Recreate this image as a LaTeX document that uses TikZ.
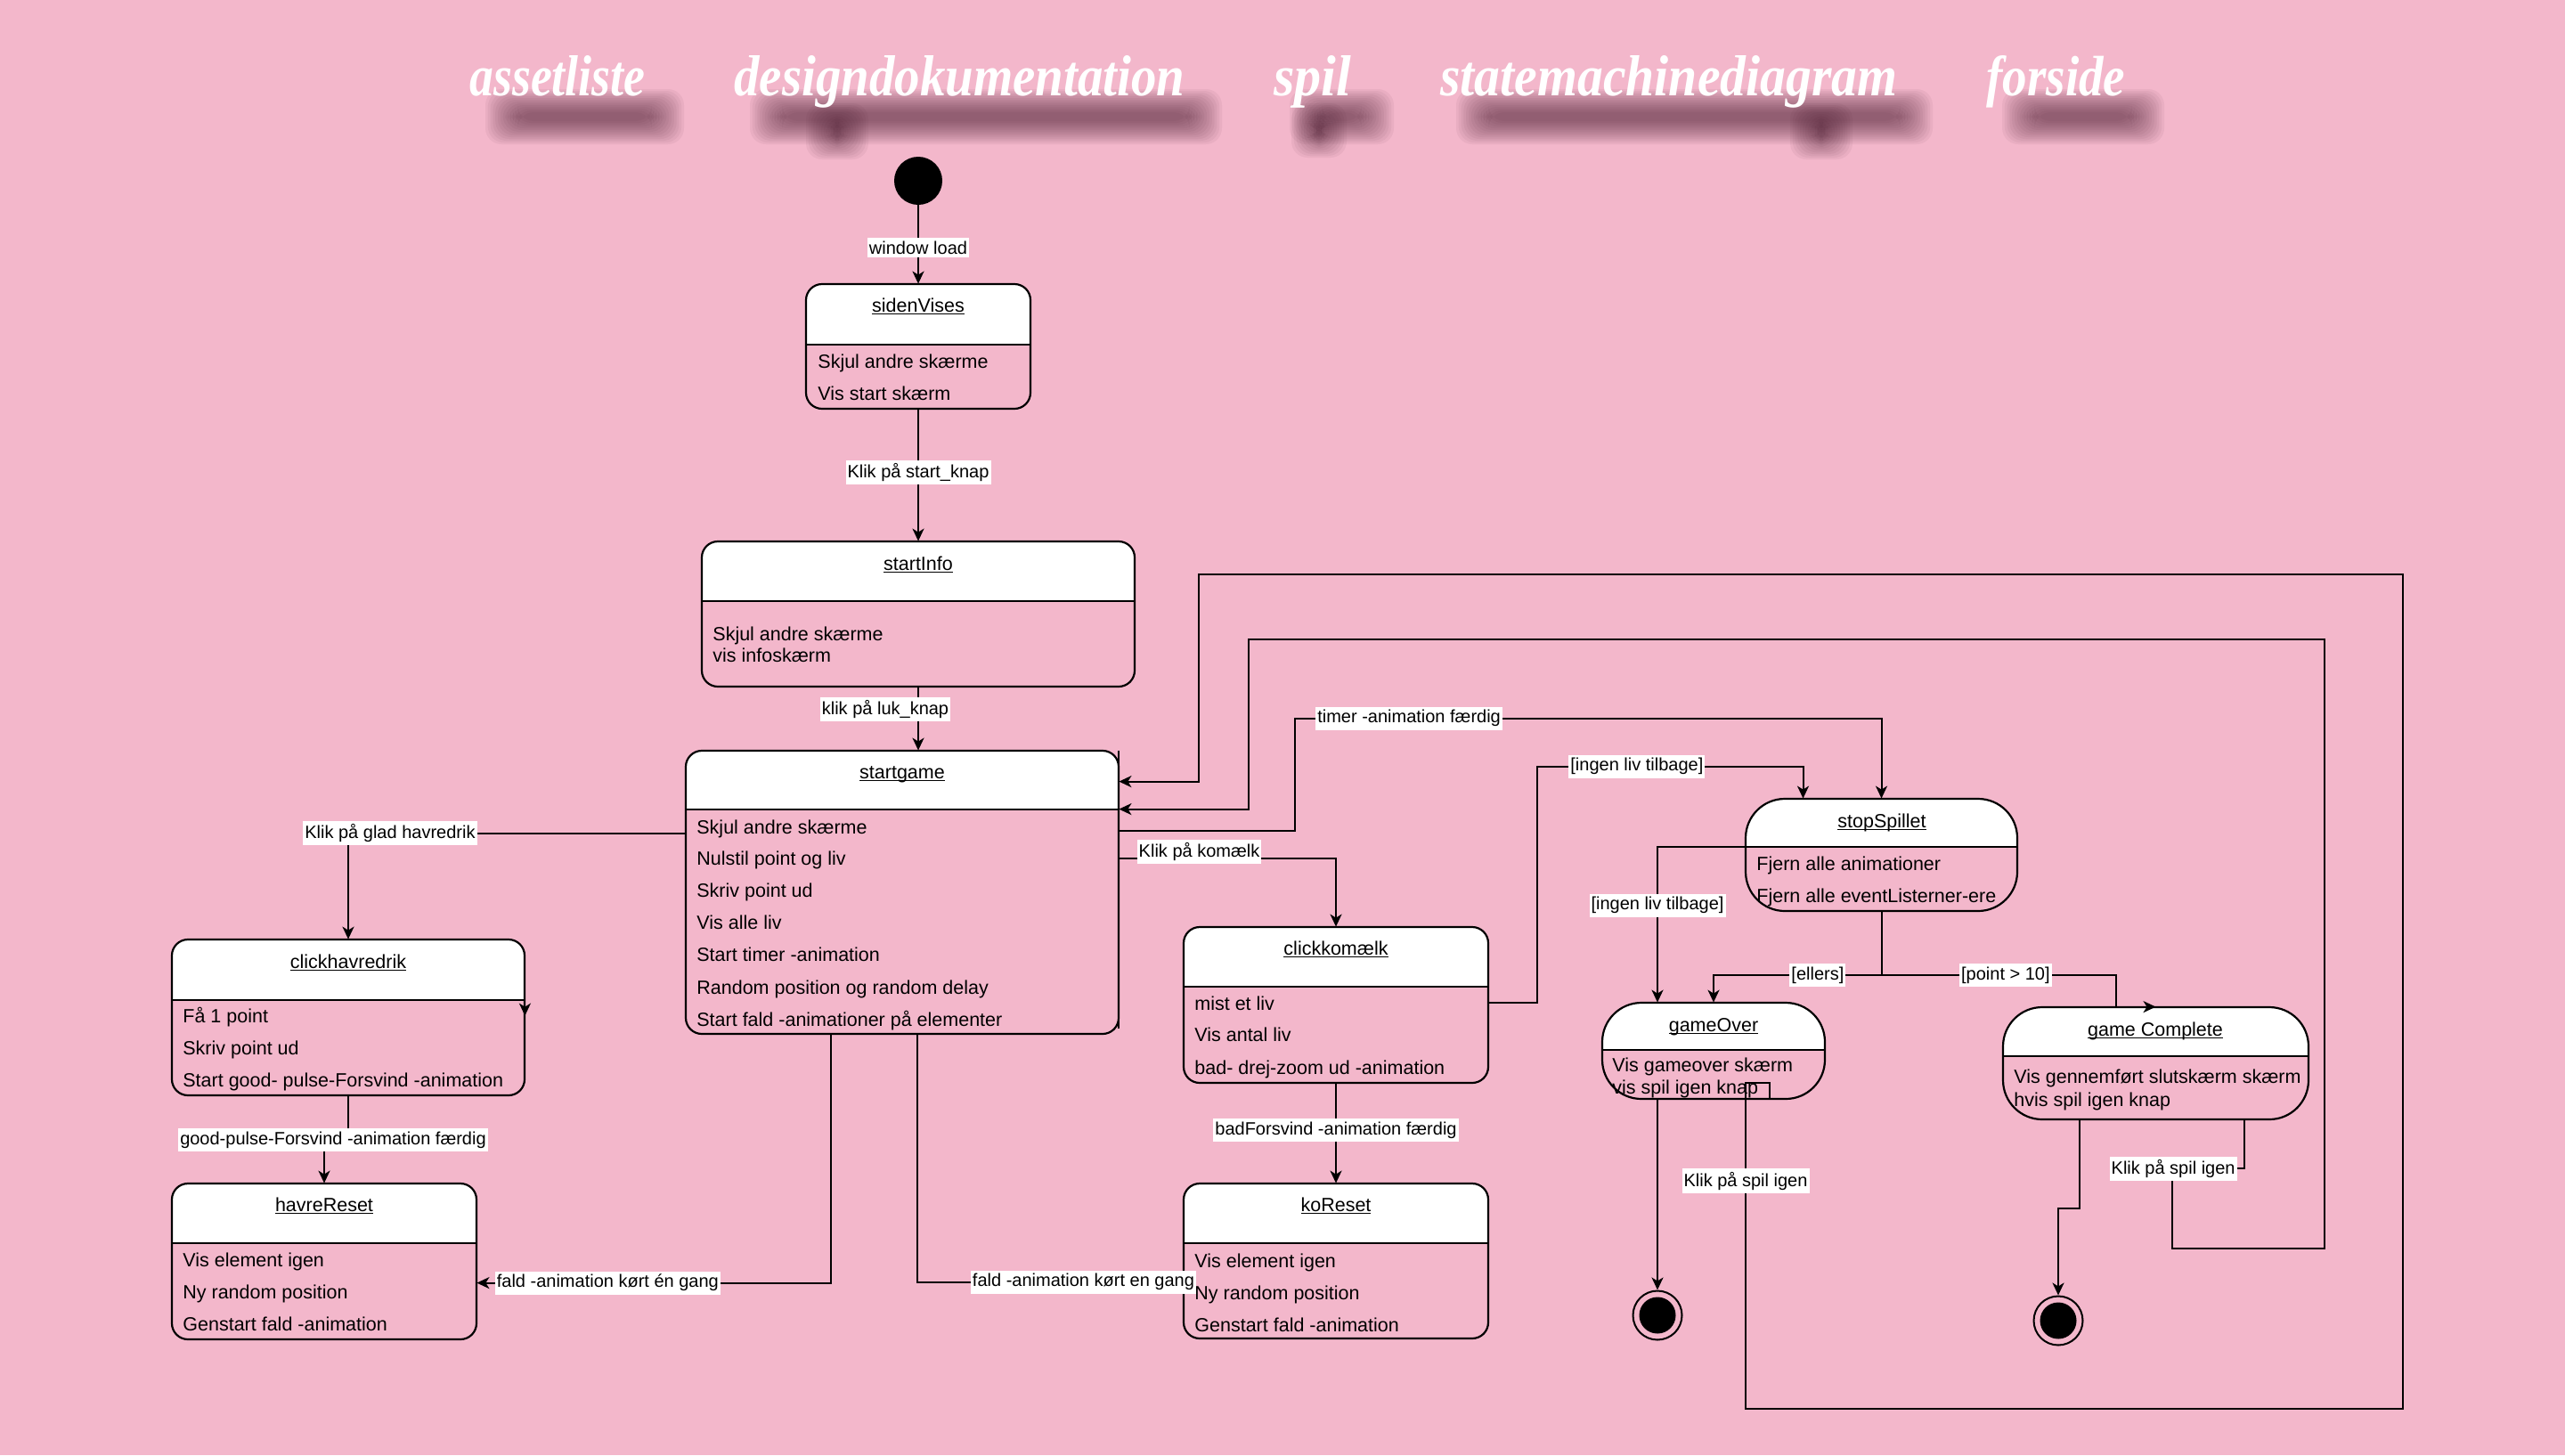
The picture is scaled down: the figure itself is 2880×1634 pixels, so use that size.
\documentclass[tikz,border=0pt]{standalone}
\usepackage{fontspec}
\setmainfont{Liberation Sans}
\newfontfamily\navfamily{Liberation Serif}
\usepackage{graphicx}
\usetikzlibrary{arrows.meta,calc,fit}

\definecolor{pagepink}{RGB}{243,183,203}
\definecolor{navshade}{RGB}{75,30,50}

\newcommand\itemsize{\fontsize{10.75pt}{13pt}\selectfont}
\newcommand\lblsize{\fontsize{10pt}{12pt}\selectfont}
% underline at a fixed depth below the baseline
\newcommand\ulname[1]{\setbox0\hbox{#1}\rlap{\rule[-1.6pt]{\wd0}{0.55pt}}\box0}

\tikzset{
  px/.style={x=0.5pt,y=-0.5pt},
  boxline/.style={line width=1.1pt},
  edge/.style={line width=1pt,-{Stealth[length=7pt,width=6.5pt,inset=2pt]}},
  plain/.style={line width=1pt},
  lbl/.style={fill=white,inner xsep=1pt,inner ysep=1.8pt,font=\lblsize,text=black},
  ttl/.style={inner sep=0pt,anchor=base,font=\itemsize},
  itm/.style={inner sep=0pt,anchor=base west,font=\itemsize},
  initial/.style={circle,fill=black,minimum size=27pt,inner sep=0pt},
  final/.style={circle,draw,line width=1pt,minimum size=27.5pt,inner sep=0pt,
    path picture={\fill[black] (path picture bounding box.center) circle (10.25pt);}},
  navtxt/.style={inner sep=0pt,anchor=base west,text=white},
  haze/.style={fill=navshade,opacity=0.055},
}

% state box: name, left, top, right, bottom, divider, corner radius
\newcommand\umlstate[7]{%
  \begin{scope}
    \clip[rounded corners=#7] (#2,#3) rectangle (#4,#5);
    \fill[white] (#2,#3) rectangle (#4,#6);
  \end{scope}
  \draw[boxline,rounded corners=#7] (#2,#3) rectangle (#4,#5);
  \draw[boxline] (#2,#6) -- (#4,#6);
  \node[fit={(#2,#3) (#4,#5)},inner sep=0pt] (#1) {};
}

% soft shadow blob: left, top, right, bottom (core area)
\newcommand\softblob[4]{%
  \foreach \g in {0,...,13}{%
    \fill[haze,rounded corners=9pt] ({#1-20+2.8*\g},{#2-16+2*\g}) rectangle ({#3+20-2.8*\g},{#4+16-2*\g});
  }%
}

% menu word: name, left, width, word
\newcommand\navword[4]{%
  \node[navtxt] (#1) at (#2,107) {\resizebox{#3}{22.5pt}{\navfamily\bfseries\itshape #4}};
}

\begin{document}
\begin{tikzpicture}[px]
\fill[pagepink] (0,0) rectangle (2880,1634);
\useasboundingbox (0,0) rectangle (2880,1634);

% menu shadows
\softblob{565}{116}{748}{146}
\softblob{862}{116}{1352}{146}
\softblob{925}{132}{955}{163}
\softblob{1468}{116}{1545}{146}
\softblob{1470}{132}{1492}{161}
\softblob{1655}{116}{2150}{146}
\softblob{2030}{132}{2060}{163}
\softblob{2268}{116}{2410}{146}

% menu
\navword{nav1}{527}{98.5pt}{assetliste}
\navword{nav2}{824}{253pt}{designdokumentation}
\navword{nav3}{1430}{43.5pt}{spil}
\navword{nav4}{1617}{256.5pt}{statemachinediagram}
\navword{nav5}{2230}{78pt}{forside}

% states
\umlstate{sv}{905}{319}{1157}{459}{387}{9pt}
\umlstate{si}{788}{608}{1274}{771}{675}{9pt}
\umlstate{sg}{770}{843}{1256}{1161}{909}{9pt}
\umlstate{ch}{193}{1055}{589}{1230}{1123}{9pt}
\umlstate{hr}{193}{1329}{535}{1504}{1396}{9pt}
\umlstate{ck}{1329}{1041}{1671}{1216}{1108}{9pt}
\umlstate{ko}{1329}{1329}{1671}{1503}{1396}{9pt}
\umlstate{ss}{1960}{897}{2265}{1023}{951}{22pt}
\umlstate{go}{1799}{1126}{2049}{1234}{1179}{22pt}
\umlstate{gc}{2249}{1131}{2592}{1257}{1186}{22pt}

\node[initial] (init) at (1031,203) {};
\node[final] (end1) at (1861,1477) {};
\node[final] (end2) at (2311,1483) {};

% transitions
\draw[edge] (init) -- (sv.north) node[lbl,pos=0.54] (l1) {window load};
\draw[edge] (sv.south) -- (si.north) node[lbl,pos=0.48] (l2) {Klik på start\_knap};
\draw[edge] (si.south) -- (si.south |- sg.north) node[lbl,pos=0.35,xshift=-18.5pt] (l3) {klik på luk\_knap};
\draw[plain] (sg.north east) -- ($(sg.south east)+(0,-6)$);

\draw[edge] ($(sg.north west)+(0,93)$) -| (ch.north) node[lbl,pos=0.438] (l4) {Klik på glad havredrik};
\draw[edge] (ch.south) -- ++(0,50) coordinate (c5) -| (hr.north);
\node[lbl] (l5) at ($(c5)+(-17,0)$) {good-pulse-Forsvind -animation færdig};
\draw[edge] ($(ch.north east)+(0,40)$) -- ($(ch.north east)+(0,86)$);

\draw[edge] ($(sg.south west)+(163,0)$) |- ($(hr.north east)+(0,112)$) node[lbl,pos=0.815] (l7) {fald -animation kørt én gang};
\draw[edge] ($(sg.south west)+(260,0)$) |- ($(ko.north west)+(0,111)$) node[lbl,pos=0.8125] (l8) {fald -animation kørt en gang};

\draw[edge] ($(sg.north east)+(0,121)$) -| (ck.north) node[lbl,pos=0.185,yshift=3.5pt] (l9) {Klik på komælk};
\draw[edge] (ck.south) -- (ko.north) node[lbl,pos=0.47] (l10) {badForsvind -animation færdig};

\draw[edge] ($(ck.north east)+(0,85)$) -- ++(55,0) |- ($(ss.north)+(-88,-36)$) node[lbl,pos=0.687] (l11) {[ingen liv tilbage]} -- ($(ss.north)+(-88,0)$);
\draw[edge] ($(sg.north east)+(0,90)$) -- ++(198,0) |- ($(ss.north)+(0,-90)$) node[lbl,pos=0.597] (l12) {timer -animation færdig} -- (ss.north);

\draw[edge] ($(ss.north west)+(0,54)$) -| ($(go.north)+(-63,0)$) node[lbl,pos=0.689] (l13) {[ingen liv tilbage]};
\draw[edge] (ss.south) -- ++(0,72) coordinate (fork) -| (go.north) node[lbl,pos=0.19] (l14) {[ellers]};
\draw[edge] (fork) -| ($(gc.north)+(-45,0)$) node[lbl,pos=0.265] (l15) {[point > 10]} -- (gc.north);

\draw[edge] ($(go.south)+(-63,0)$) -- (end1);
\draw[edge] ($(go.south)+(63,0)$) -- ++(0,-18) -- ++(-27,0) -- ++(0,366) node[lbl,pos=0.3] (l17) {Klik på spil igen}
  -- ++(738,0) -- ++(0,-937) -- ++(-1352,0) |- ($(sg.north east)+(0,35)$);

\draw[edge] ($(gc.south)+(-86,0)$) -- ++(0,100) -| (end2.north);
\draw[edge] ($(gc.south)+(99,0)$) -- ++(0,55) -- ++(-81,0) node[lbl,pos=0.98] (l19) {Klik på spil igen}
  -- ++(0,90) -- ++(171,0) -- ++(0,-684) -- ++(-1208,0) |- ($(sg.north east)+(0,66)$);

% state texts
\node[ttl] (sv-t) at (1031,350) {\ulname{sidenVises}};
\node[itm] (sv-1) at (918,413) {Skjul andre skærme};
\node[itm] (sv-2) at (918,449) {Vis start skærm};

\node[ttl] (si-t) at (1031,640) {\ulname{startInfo}};
\node[itm] (si-1) at (800,719) {Skjul andre skærme};
\node[itm] (si-2) at (800,743) {vis infoskærm};

\node[ttl] (sg-t) at (1013,874) {\ulname{startgame}};
\node[itm] (sg-1) at (782,936) {Skjul andre skærme};
\node[itm] (sg-2) at (782,971) {Nulstil point og liv};
\node[itm] (sg-3) at (782,1007) {Skriv point ud};
\node[itm] (sg-4) at (782,1043) {Vis alle liv};
\node[itm] (sg-5) at (782,1079) {Start timer -animation};
\node[itm] (sg-6) at (782,1116) {Random position og random delay};
\node[itm] (sg-7) at (782,1152) {Start fald -animationer på elementer};

\node[ttl] (ch-t) at (391,1087) {\ulname{clickhavredrik}};
\node[itm] (ch-1) at (205,1148) {Få 1 point};
\node[itm] (ch-2) at (205,1184) {Skriv point ud};
\node[itm] (ch-3) at (205,1220) {Start good- pulse-Forsvind -animation};

\node[ttl] (hr-t) at (364,1360) {\ulname{havreReset}};
\node[itm] (hr-1) at (205,1422) {Vis element igen};
\node[itm] (hr-2) at (205,1458) {Ny random position};
\node[itm] (hr-3) at (205,1494) {Genstart fald -animation};

\node[ttl] (ck-t) at (1500,1072) {\ulname{clickkomælk}};
\node[itm] (ck-1) at (1341,1134) {mist et liv};
\node[itm] (ck-2) at (1341,1169) {Vis antal liv};
\node[itm] (ck-3) at (1341,1206) {bad- drej-zoom ud -animation};

\node[ttl] (ko-t) at (1500,1360) {\ulname{koReset}};
\node[itm] (ko-1) at (1341,1423) {Vis element igen};
\node[itm] (ko-2) at (1341,1459) {Ny random position};
\node[itm] (ko-3) at (1341,1495) {Genstart fald -animation};

\node[ttl] (ss-t) at (2113,929) {\ulname{stopSpillet}};
\node[itm] (ss-1) at (1972,977) {Fjern alle animationer};
\node[itm] (ss-2) at (1972,1013) {Fjern alle eventListerner-ere};

\node[ttl] (go-t) at (1924,1158) {\ulname{gameOver}};
\node[itm] (go-1) at (1810,1203) {Vis gameover skærm};
\node[itm] (go-2) at (1810,1228) {vis spil igen knap};

\node[ttl] (gc-t) at (2420,1163) {\ulname{game Complete}};
\node[itm] (gc-1) at (2261,1216) {Vis gennemført slutskærm skærm};
\node[itm] (gc-2) at (2261,1242) {hvis spil igen knap};
\end{tikzpicture}
\end{document}
